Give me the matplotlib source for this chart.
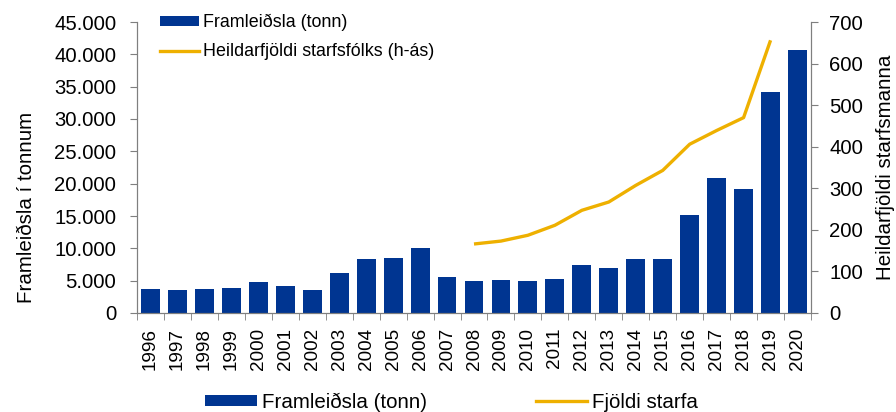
import matplotlib
matplotlib.use("Agg")
import matplotlib.pyplot as plt
from matplotlib.ticker import FuncFormatter, FixedLocator, MultipleLocator
from matplotlib.patches import Patch
from matplotlib.lines import Line2D

plt.rcParams['font.family'] = ['Liberation Sans', 'DejaVu Sans']

years = [str(y) for y in range(1996, 2021)]
production = [3700, 3600, 3700, 3800, 4800, 4200, 3600, 6200, 8300, 8450,
              10000, 5600, 4900, 5100, 4900, 5200, 7400, 7000, 8400, 8400,
              15100, 20900, 19200, 34200, 40600]
staff_years = [str(y) for y in range(2008, 2020)]
staff = [166, 173, 187, 211, 247, 267, 307, 343, 406, 439, 470, 656]

bar_color = '#003591'
line_color = '#EEB000'
spine_color = '#7f7f7f'
fs_tick = 14.6
fs_year = 13.6
fs_label = 14.8
fs_leg_top = 12.9
fs_leg_bot = 14.8

fig = plt.figure(figsize=(8.96, 4.12), dpi=100)
ax = fig.add_axes([137/896, 1-313/412, (811-137)/896, (313-22)/412])
ax2 = ax.twinx()

x = list(range(len(years)))
ax.bar(x, production, width=0.7, color=bar_color, zorder=2)
sx = [years.index(y) for y in staff_years]
ax2.plot(sx, staff, color=line_color, lw=2.4, solid_capstyle='butt')

ax.set_xlim(-0.5, len(years) - 0.5)
ax.set_ylim(0, 45000)
ax2.set_ylim(0, 700)
ax.yaxis.set_major_locator(MultipleLocator(5000))
ax2.yaxis.set_major_locator(MultipleLocator(100))
ax.yaxis.set_major_formatter(FuncFormatter(lambda v, p: f"{v:,.0f}".replace(",", ".")))

ax.set_xticks(x)
ax.set_xticklabels(years, rotation=90, fontsize=fs_year)
ax.xaxis.set_minor_locator(FixedLocator([i + 0.5 for i in range(-1, len(years))]))
ax.tick_params(axis='x', which='major', length=0, pad=10.8)
ax.tick_params(axis='x', which='minor', length=5, color=spine_color, direction='out')
ax.tick_params(axis='y', length=5, color=spine_color, labelsize=fs_tick, pad=10)
ax2.tick_params(axis='y', length=5, color=spine_color, labelsize=fs_tick, pad=8)

for a in (ax, ax2):
    a.spines['top'].set_visible(False)
    for s in ('left', 'right', 'bottom'):
        a.spines[s].set_color(spine_color)

fig.text(26/896, 1-(112+303)/2/412, 'Framleiðsla í tonnum', rotation=90,
         ha='center', va='center', fontsize=fs_label)
fig.text(885/896, 1-167/412, 'Heildarfjöldi starfsmanna', rotation=90,
         ha='center', va='center', fontsize=fs_label)

h_bar = Patch(facecolor=bar_color, edgecolor='none')
h_line = Line2D([0], [0], color=line_color, lw=2.4)
ax2.legend([h_bar, h_line], ['Framleiðsla (tonn)', 'Heildarfjöldi starfsfólks (h-ás)'],
           loc='upper left', bbox_to_anchor=(160/896, 1-14/412),
           bbox_transform=fig.transFigure, frameon=False,
           fontsize=fs_leg_top, handlelength=2.18, handleheight=0.45, handletextpad=0.22,
           labelspacing=0.67, borderaxespad=0, borderpad=0)
fig.legend([h_bar, h_line], ['Framleiðsla (tonn)', 'Fjöldi starfa'],
           loc='center left', bbox_to_anchor=(205/896, 1-402/412), ncol=2, frameon=False,
           fontsize=fs_leg_bot, handlelength=2.52, handleheight=0.49, handletextpad=0.24,
           columnspacing=5.3, borderaxespad=0, borderpad=0)

fig.savefig('out.png', dpi=100)
